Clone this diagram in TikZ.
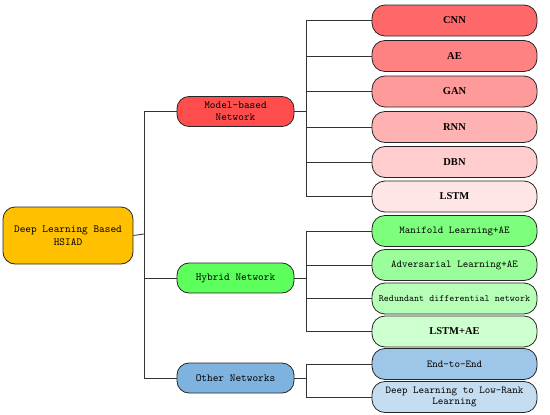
\documentclass[tikz,border=0pt]{standalone}
\usepackage{fontspec}
\setmainfont{Liberation Serif}
\newfontfamily\labelfont{Latin Modern Mono}
\usetikzlibrary{positioning}
\definecolor{rootcol}{HTML}{FFC000}
\definecolor{modelcol}{HTML}{FF4D4D}
\definecolor{hybridcol}{HTML}{5CFF5C}
\definecolor{othercol}{HTML}{7EB3E0}
\tikzset{
box/.style={shape=rectangle, draw=black!85, line width=0.8pt, rounded corners=12pt, align=center, inner sep=1pt},
rootbox/.style={box, fill=rootcol, minimum width=130pt, minimum height=57pt, font=\labelfont\fontsize{10.8}{13}\selectfont},
midbox/.style={box, minimum width=117pt, minimum height=30pt, font=\labelfont\fontsize{10.8}{12}\selectfont},
leafbox/.style={box, rounded corners=13pt, minimum width=165pt, minimum height=31pt, font=\labelfont\fontsize{10.5}{12}\selectfont},
shortbox/.style={leafbox, font=\bfseries\fontsize{10.5}{12}\selectfont},
branch/.style={draw=black!80, line width=0.8pt}
}
\begin{document}
\begin{tikzpicture}[x=1pt, y=-1pt]
  \useasboundingbox (0,0) rectangle (550,415);
  % root and second level
  \node[rootbox] (root) at (68,235.5) {Deep Learning Based\\HSIAD};
  \node[midbox, fill=modelcol] (model) at (235.5,111.5) {Model-based\\Network};
  \node[midbox, fill=hybridcol] (hybrid) at (235.5,278) {Hybrid Network};
  \node[midbox, fill=othercol] (other) at (235.5,378) {Other Networks};
  % model-based leaves
  \node[shortbox, fill=modelcol!85!white] (cnn) at (454.5,20.5) {CNN};
  \node[shortbox, fill=modelcol!70!white] (ae) at (454.5,56) {AE};
  \node[shortbox, fill=modelcol!57!white] (gan) at (454.5,91.5) {GAN};
  \node[shortbox, fill=modelcol!43!white] (rnn) at (454.5,127) {RNN};
  \node[shortbox, fill=modelcol!28!white] (dbn) at (454.5,162) {DBN};
  \node[shortbox, fill=modelcol!14!white] (lstm) at (454.5,196.5) {LSTM};
  % hybrid leaves
  \node[leafbox, fill=hybridcol!80!white] (manifold) at (454.5,231) {Manifold Learning+AE};
  \node[leafbox, fill=hybridcol!62!white] (adversarial) at (454.5,265) {Adversarial Learning+AE};
  \node[leafbox, fill=hybridcol!45!white, font=\labelfont\fontsize{9.6}{11}\selectfont] (redundant) at (454.5,298.5) {Redundant differential network};
  \node[shortbox, fill=hybridcol!30!white] (lstmae) at (454.5,331.5) {LSTM+AE};
  % other leaves
  \node[leafbox, fill=othercol!75!white] (endtoend) at (454.5,364) {End-to-End};
  \node[leafbox, fill=othercol!45!white, font=\labelfont\fontsize{10.5}{11.5}\selectfont] (lowrank) at (454.5,397) {Deep Learning to Low-Rank\\Learning};
  % connectors
  \coordinate (rb) at (144,234);
  \coordinate (mb) at (306,111.5);
  \coordinate (hb) at (306,278);
  \coordinate (ob) at (306,378);
  \draw[branch] (root.east) -- (rb);
  \draw[branch] (rb) |- (model.west);
  \draw[branch] (rb) |- (hybrid.west);
  \draw[branch] (rb) |- (other.west);
  \draw[branch] (model.east) -- (mb);
  \draw[branch] (mb) |- (cnn.west);
  \draw[branch] (mb) |- (ae.west);
  \draw[branch] (mb) |- (gan.west);
  \draw[branch] (mb) |- (rnn.west);
  \draw[branch] (mb) |- (dbn.west);
  \draw[branch] (mb) |- (lstm.west);
  \draw[branch] (hybrid.east) -- (hb);
  \draw[branch] (hb) |- (manifold.west);
  \draw[branch] (hb) |- (adversarial.west);
  \draw[branch] (hb) |- (redundant.west);
  \draw[branch] (hb) |- (lstmae.west);
  \draw[branch] (other.east) -- (ob);
  \draw[branch] (ob) |- (endtoend.west);
  \draw[branch] (ob) |- (lowrank.west);
\end{tikzpicture}
\end{document}
